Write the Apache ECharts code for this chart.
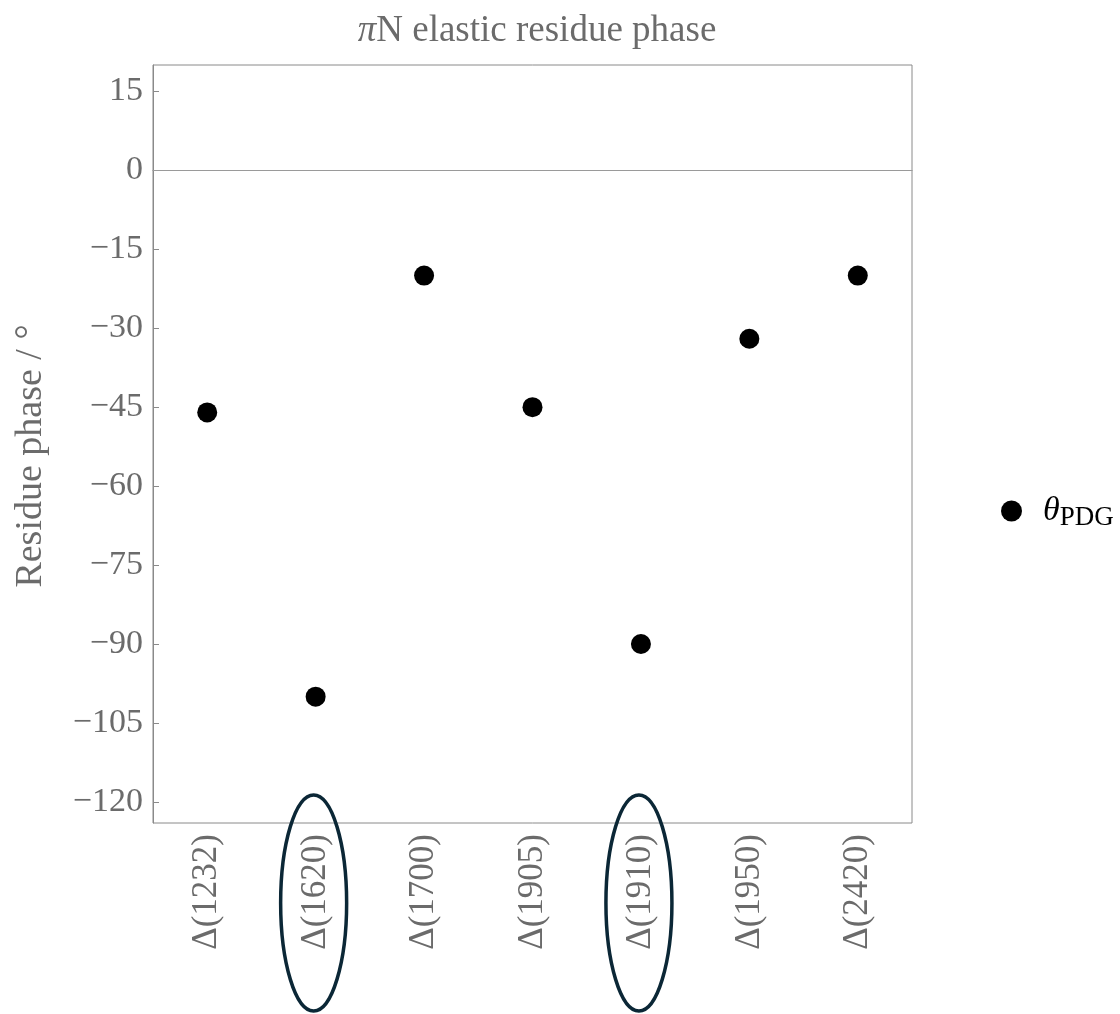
<!DOCTYPE html>
<html>
<head>
<meta charset="utf-8">
<script src="https://cdn.jsdelivr.net/npm/echarts@6/dist/echarts.min.js"></script>
<style>
html,body{margin:0;padding:0;background:#fff;}
#main{width:1120px;height:1014px;}
</style>
</head>
<body>
<div id="main"></div>
<script>
const categories = ['Δ(1232)', 'Δ(1620)', 'Δ(1700)', 'Δ(1905)', 'Δ(1910)', 'Δ(1950)', 'Δ(2420)'];
const phasePDG = [-46, -100, -20, -45, -90, -32, -20];
const yTicks = [-120, -105, -90, -75, -60, -45, -30, -15, 0, 15];
const highlighted = ['Δ(1620)', 'Δ(1910)'];

const FONT = '"Liberation Serif", "DejaVu Serif", serif';
const GRAY = '#6b6b6b';
const AXIS = '#8a8a8a';

const chart = echarts.init(document.getElementById('main'), null, {renderer: 'canvas'});
const option = {
  backgroundColor: '#fff',
  animation: false,
  title: {
    text: '{pi|π}N elastic residue phase',
    left: 532, textAlign: 'center', top: 8,
    textStyle: {
      fontFamily: FONT, fontSize: 37, color: GRAY, fontWeight: 'normal',
      rich: {pi: {fontFamily: FONT, fontSize: 37, color: GRAY, fontStyle: 'italic'}}
    }
  },
  grid: {left: 153, right: 208, top: 65, bottom: 191, show: true, borderColor: AXIS, borderWidth: 1},
  legend: {
    left: 996, top: 489, orient: 'vertical',
    itemWidth: 21, itemHeight: 21, icon: 'circle',
    data: [{name: 'PDG', itemStyle: {color: '#000', opacity: 1}}],
    formatter: function () { return '{t|θ}{s|PDG}'; },
    textStyle: {
      rich: {
        t: {fontFamily: FONT, fontSize: 34, fontStyle: 'italic', color: '#000', padding: [0, 0, 0, 16]},
        s: {fontFamily: FONT, fontSize: 27, color: '#000', padding: [14, 0, 0, 0]}
      }
    }
  },
  xAxis: {
    type: 'category', data: categories, boundaryGap: true,
    axisLine: {lineStyle: {color: AXIS, width: 1}},
    axisTick: {inside: true, alignWithLabel: true, length: 7, lineStyle: {color: AXIS}},
    axisLabel: {rotate: 90, margin: 11, fontFamily: FONT, fontSize: 35, color: GRAY},
    splitLine: {show: false}
  },
  yAxis: {
    type: 'value', min: -124, max: 20,
    name: 'Residue phase / °', nameLocation: 'middle', nameGap: 103, nameRotate: 90,
    nameTextStyle: {fontFamily: FONT, fontSize: 38, color: GRAY, padding: [0, 24, 0, 0]},
    axisLine: {show: true, lineStyle: {color: AXIS, width: 1}},
    axisTick: {show: true, inside: true, length: 6, lineStyle: {color: AXIS}, customValues: yTicks},
    axisLabel: {
      margin: 10, fontFamily: FONT, fontSize: 34, color: GRAY, customValues: yTicks,
      formatter: function (v) { return v < 0 ? '\u2212' + Math.abs(v) : String(v); }
    },
    splitLine: {show: false}
  },
  series: [{
    name: 'PDG', type: 'scatter', data: phasePDG,
    symbol: 'circle', symbolSize: 20, itemStyle: {color: '#000', opacity: 1},
    emphasis: {disabled: true},
    markLine: {
      silent: true, symbol: 'none', label: {show: false},
      lineStyle: {color: '#9a9a9a', width: 1, type: 'solid'},
      data: [{yAxis: 0}]
    }
  }]
};
chart.setOption(option);

const bottomY = chart.convertToPixel({yAxisIndex: 0}, -124);
const graphics = highlighted.map(function (c) {
  const x = chart.convertToPixel({xAxisIndex: 0}, c);
  return {
    type: 'ellipse',
    shape: {cx: x - 2, cy: bottomY + 80, rx: 33, ry: 108},
    style: {fill: 'none', stroke: '#0b2736', lineWidth: 3.5},
    silent: true
  };
});
chart.setOption({graphic: graphics});
</script>
</body>
</html>
